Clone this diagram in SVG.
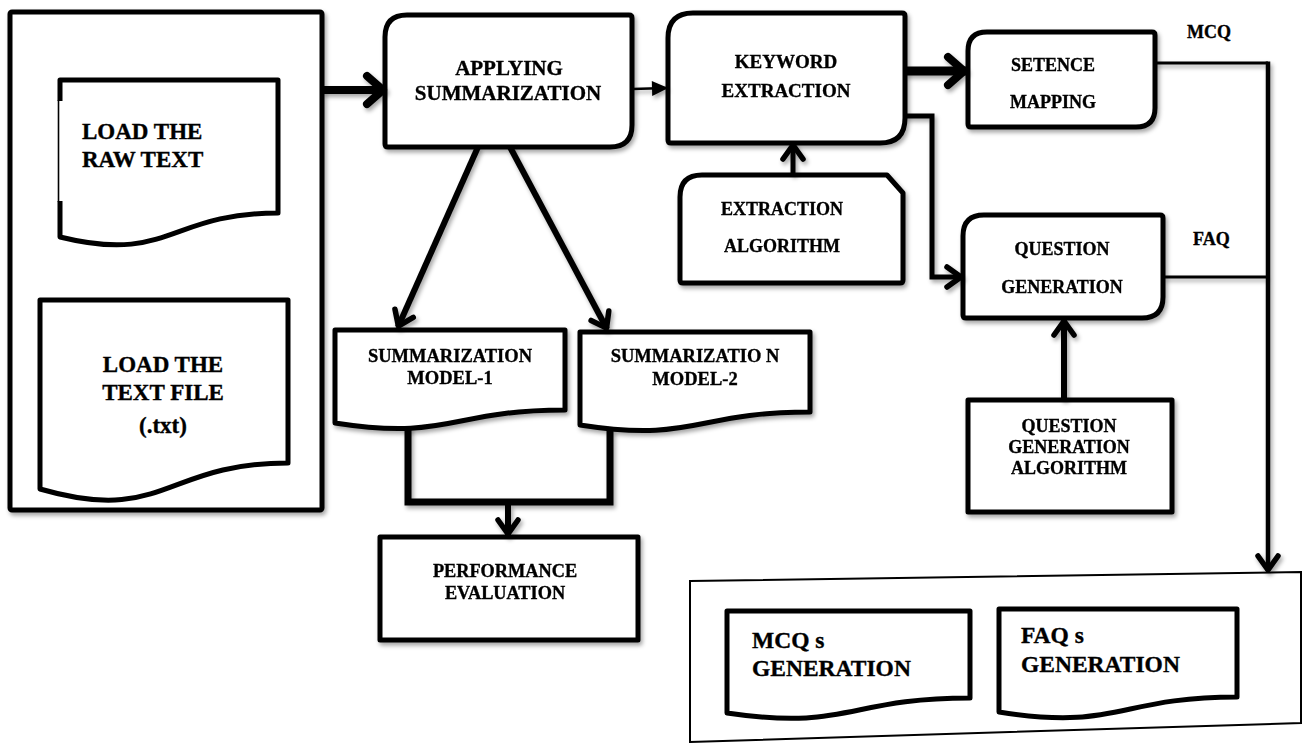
<svg xmlns="http://www.w3.org/2000/svg" width="1304" height="743" viewBox="0 0 1304 743">
  <style>
    .box { fill: #fff; stroke: #000; stroke-width: 5; stroke-linejoin: round; }
    .thin { fill: none; stroke: #000; stroke-width: 2; }
    .lbl { font-family: "Liberation Serif", "Times New Roman", serif; font-weight: bold; fill: #000; stroke: #000; stroke-width: 0.35; }
    .c { text-anchor: middle; }
    .conn { fill: none; stroke: #000; stroke-linecap: butt; stroke-linejoin: miter; }
  </style>
  <defs>
    <filter id="shadow" x="-20%" y="-20%" width="140%" height="140%">
      <feDropShadow dx="2" dy="3" stdDeviation="2" flood-color="#000" flood-opacity="0.35"/>
    </filter>
    <marker id="chevBig" markerUnits="userSpaceOnUse" markerWidth="40" markerHeight="40" refX="0" refY="0" viewBox="-30 -20 40 40" orient="auto" overflow="visible">
      <path d="M-18,-14 L-2,0 L-18,14" fill="none" stroke="#000" stroke-width="8" stroke-linecap="round" stroke-linejoin="round"/>
    </marker>
    <marker id="chevMed" markerUnits="userSpaceOnUse" markerWidth="40" markerHeight="40" refX="0" refY="0" viewBox="-30 -20 40 40" orient="auto" overflow="visible">
      <path d="M-15,-10 L-1,0 L-15,10" fill="none" stroke="#000" stroke-width="5.5" stroke-linecap="round" stroke-linejoin="round"/>
    </marker>
    <marker id="tri" markerUnits="userSpaceOnUse" markerWidth="20" markerHeight="20" refX="0" refY="0" viewBox="-14 -8 16 16" orient="auto" overflow="visible">
      <path d="M-12,-6 L1,0 L-12,6 Z" fill="#000"/>
    </marker>
  </defs>

  <rect width="1304" height="743" fill="#fff"/>

  <!-- input container with the two document sources -->
  <g id="input" filter="url(#shadow)">
    <rect class="box" x="10" y="12" width="312" height="498" rx="2"/>
  </g>
  <g id="raw-text">
    <path class="box" d="M60,80 H278 V213 C169,213 169,264 60,237 Z"/>
    <line x1="60" y1="101" x2="60" y2="201" stroke="#fff" stroke-width="7"/>
    <line x1="58.5" y1="100" x2="58.5" y2="202" stroke="#000" stroke-width="1.6"/>
    <text class="lbl" font-size="23" x="82" y="139">LOAD THE</text>
    <text class="lbl" font-size="23" x="82" y="167">RAW TEXT</text>
  </g>
  <g id="text-file">
    <path class="box" d="M40,300 H288 V463 C164,463 164,525 40,489 Z"/>
    <text class="lbl c" font-size="23" x="163" y="372">LOAD THE</text>
    <text class="lbl c" font-size="23" x="163" y="400">TEXT FILE</text>
    <text class="lbl c" font-size="23" x="163" y="433">(.txt)</text>
  </g>

  <!-- processing steps -->
  <g id="summarization" filter="url(#shadow)">
    <path class="box" d="M407,15 H629 Q632,15 632,18 V125 Q632,147 610,147 H388 Q385,147 385,144 V37 Q385,15 407,15 Z"/>
    <text class="lbl c" font-size="21" x="509" y="75">APPLYING</text>
    <text class="lbl c" font-size="21" x="508" y="100">SUMMARIZATION</text>
  </g>
  <g id="keyword" filter="url(#shadow)">
    <path class="box" d="M693,13 H902 Q905,13 905,16 V118 Q905,143 880,143 H671 Q668,143 668,140 V38 Q668,13 693,13 Z"/>
    <text class="lbl c" font-size="19" x="786" y="68">KEYWORD</text>
    <text class="lbl c" font-size="19" x="786" y="97">EXTRACTION</text>
  </g>
  <g id="extraction-algorithm" filter="url(#shadow)">
    <path class="box" d="M702,175 H887 L903,193 V280 Q903,283 900,283 H683 Q680,283 680,280 V197 Q680,175 702,175 Z"/>
    <text class="lbl c" font-size="18" x="782" y="215">EXTRACTION</text>
    <text class="lbl c" font-size="18" x="782" y="252">ALGORITHM</text>
  </g>
  <g id="sentence-mapping" filter="url(#shadow)">
    <path class="box" d="M987,32 H1152 Q1155,32 1155,35 V108 Q1155,127 1136,127 H971 Q968,127 968,124 V51 Q968,32 987,32 Z"/>
    <text class="lbl c" font-size="18" x="1053" y="71">SETENCE</text>
    <text class="lbl c" font-size="18" x="1053" y="108">MAPPING</text>
  </g>
  <g id="question-generation" filter="url(#shadow)">
    <path class="box" d="M984,215 H1160 Q1163,215 1163,218 V297 Q1163,318 1142,318 H966 Q963,318 963,315 V236 Q963,215 984,215 Z"/>
    <text class="lbl c" font-size="18" x="1062" y="255">QUESTION</text>
    <text class="lbl c" font-size="18" x="1062" y="293">GENERATION</text>
  </g>
  <g id="question-algorithm" filter="url(#shadow)">
    <rect class="box" x="968" y="400" width="204" height="112"/>
    <text class="lbl c" font-size="18" x="1069" y="432">QUESTION</text>
    <text class="lbl c" font-size="18" x="1069" y="453">GENERATION</text>
    <text class="lbl c" font-size="18" x="1069" y="474">ALGORITHM</text>
  </g>
  <g id="model-1" filter="url(#shadow)">
    <path class="box" d="M335,330 H565 V410 C450,410 450,441 335,423 Z"/>
    <text class="lbl c" font-size="18.5" x="450" y="362">SUMMARIZATION</text>
    <text class="lbl c" font-size="18.5" x="450" y="384">MODEL-1</text>
  </g>
  <g id="model-2" filter="url(#shadow)">
    <path class="box" d="M580,332 H810 V412 C695,412 695,443 580,425 Z"/>
    <text class="lbl c" font-size="18.5" x="695" y="362">SUMMARIZATIO N</text>
    <text class="lbl c" font-size="18.5" x="695" y="385">MODEL-2</text>
  </g>
  <g id="performance" filter="url(#shadow)">
    <rect class="box" x="380" y="537" width="258" height="103"/>
    <text class="lbl c" font-size="18.3" x="505" y="577">PERFORMANCE</text>
    <text class="lbl c" font-size="18.3" x="505" y="599">EVALUATION</text>
  </g>

  <!-- output container -->
  <g id="output">
    <path class="thin" d="M690,581 L1301,572 V723 L690,742 Z" fill="#fff"/>
  </g>
  <g id="mcq-generation">
    <path class="box" d="M727,611 H970 V698 C848,698 848,731 727,713 Z"/>
    <text class="lbl" font-size="23.5" x="752" y="648">MCQ s</text>
    <text class="lbl" font-size="23.5" x="752" y="676">GENERATION</text>
  </g>
  <g id="faq-generation">
    <path class="box" d="M999,609 H1237 V697 C1118,697 1118,731 999,712 Z"/>
    <text class="lbl" font-size="23.5" x="1021" y="643">FAQ s</text>
    <text class="lbl" font-size="23.5" x="1021" y="672">GENERATION</text>
  </g>

  <!-- branch labels -->
  <g id="branch-labels">
    <text class="lbl" font-size="18" x="1187" y="38">MCQ</text>
    <text class="lbl" font-size="18" x="1193" y="245">FAQ</text>
  </g>

  <!-- connectors -->
  <g id="connectors" filter="url(#shadow)">
    <path class="conn" stroke-width="8" d="M322,90 H385" marker-end="url(#chevBig)"/>
    <path class="conn" stroke-width="2.5" d="M632,89 L667,88" marker-end="url(#tri)"/>
    <path class="conn" stroke-width="9" d="M905,71 H966" marker-end="url(#chevBig)"/>
    <path class="conn" stroke-width="5" d="M905,116 H932 V277 H962" marker-end="url(#chevMed)"/>
    <path class="conn" stroke-width="5" d="M793,175 V144" marker-end="url(#chevMed)"/>
    <path class="conn" stroke-width="6" d="M478,147 L398,327" marker-end="url(#chevMed)"/>
    <path class="conn" stroke-width="6" d="M510,147 L607,329" marker-end="url(#chevMed)"/>
    <path class="conn" stroke-width="7" d="M408,427 V502 H610 V430"/>
    <path class="conn" stroke-width="6" d="M508,502 V535" marker-end="url(#chevMed)"/>
    <path class="conn" stroke-width="3" d="M1155,63 H1268"/>
    <path class="conn" stroke-width="3" d="M1163,277 H1268"/>
    <path class="conn" stroke-width="4.5" d="M1268,61.5 V571" marker-end="url(#chevMed)"/>
    <path class="conn" stroke-width="6" d="M1064,400 V320" marker-end="url(#chevMed)"/>
  </g>
</svg>
